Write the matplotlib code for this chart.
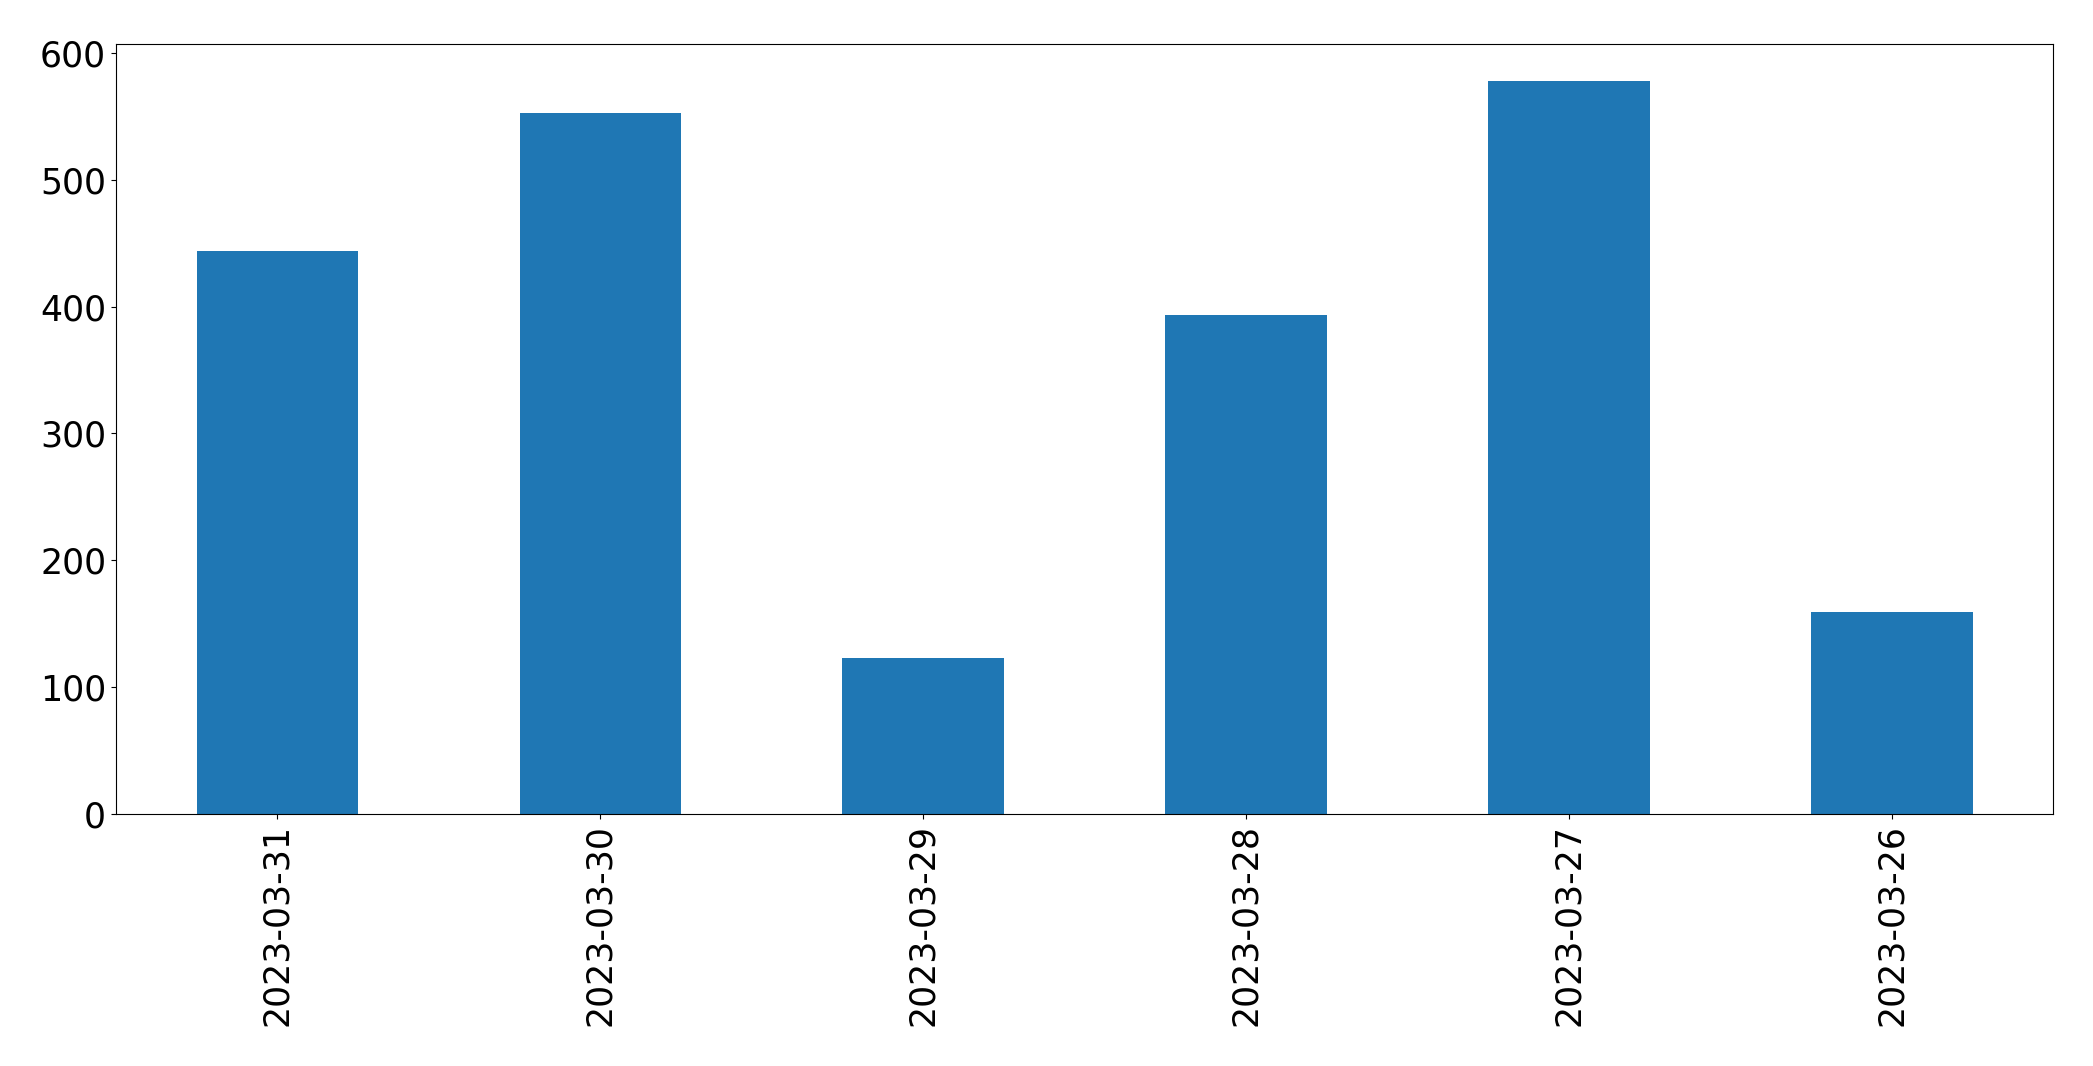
import matplotlib
matplotlib.use('Agg')
import matplotlib.pyplot as plt

dates = ['2023-03-31', '2023-03-30', '2023-03-29', '2023-03-28', '2023-03-27', '2023-03-26']
counts = [444, 553, 123, 393, 578, 159]

fig, ax = plt.subplots(figsize=(20.93, 10.66), dpi=100)
x = range(len(dates))
ax.bar(x, counts, width=0.5, color='#1f77b4')
ax.set_xticks(list(x))
ax.set_xticklabels(dates, rotation=90)
ax.set_xlim(-0.5, len(dates) - 0.5)
ax.set_ylim(0, 607)
ax.tick_params(labelsize=25)

fig.subplots_adjust(left=0.0554, right=0.981, top=0.9587, bottom=0.2364)
fig.savefig('out.png', dpi=100)
